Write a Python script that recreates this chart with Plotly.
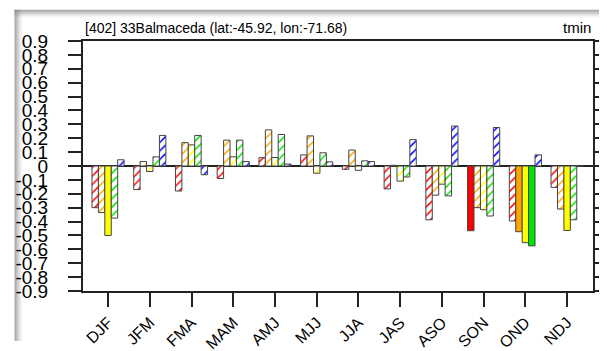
import plotly.graph_objects as go

seasons = ["DJF", "JFM", "FMA", "MAM", "AMJ", "MJJ", "JJA", "JAS", "ASO", "SON", "OND", "NDJ"]

red_vals    = [-0.30, -0.17, -0.18, -0.09, 0.06, 0.08, -0.024, -0.165, -0.387, -0.466, -0.396, -0.154]
orange_vals = [-0.335, 0.032, 0.168, 0.186, 0.26, 0.217, 0.115, 0.005, -0.21, -0.30, -0.473, -0.31]
yellow_vals = [-0.50, -0.04, 0.152, 0.066, 0.061, -0.052, -0.031, -0.109, -0.131, -0.315, -0.552, -0.464]
green_vals  = [-0.375, 0.066, 0.22, 0.186, 0.227, 0.095, 0.037, -0.079, -0.215, -0.36, -0.575, -0.387]
blue_vals   = [0.045, 0.22, -0.063, 0.032, 0.014, 0.03, 0.032, 0.19, 0.288, 0.277, 0.08, 0.004]

# significance flags (solid fill) per series
red_sig    = [0, 0, 0, 0, 0, 0, 0, 0, 0, 1, 0, 0]
orange_sig = [0, 0, 0, 0, 0, 0, 0, 0, 0, 0, 1, 0]
yellow_sig = [1, 0, 0, 0, 0, 0, 0, 0, 0, 0, 1, 1]
green_sig  = [0, 0, 0, 0, 0, 0, 0, 0, 0, 0, 1, 0]
blue_sig   = [0, 0, 0, 0, 0, 0, 0, 0, 0, 0, 0, 0]

series = [
    ("red", red_vals, red_sig, "#FF0000"),
    ("orange", orange_vals, orange_sig, "#FFA500"),
    ("yellow", yellow_vals, yellow_sig, "#FFFF00"),
    ("green", green_vals, green_sig, "#00E600"),
    ("blue", blue_vals, blue_sig, "#0000FF"),
]

ytick_vals = [round(-0.9 + 0.1 * i, 1) for i in range(19)]
ytick_text = ["0" if v == 0 else f"{v:.1f}" for v in ytick_vals]

title_text = "[402] 33Balmaceda (lat:-45.92, lon:-71.68)"
var_text = "tmin"

W, H = 607, 351
ML, MR, MT, MB = 71, 7, 33, 53
PW, PH = W - ML - MR, H - MT - MB

fig = go.Figure()
for name, vals, sig, col in series:
    fig.add_trace(go.Bar(
        x=seasons, y=vals, name=name,
        marker=dict(
            color=col,
            line=dict(color="#444444", width=1),
            pattern=dict(shape=["" if s else "/" for s in sig],
                         fillmode="replace", bgcolor="white",
                         size=6, solidity=0.25),
        ),
        showlegend=False,
    ))

font = "Liberation Sans, Arial, Helvetica, sans-serif"

# grey shadow at the top/left edges of the reference image
shapes = []
def px2paper_x(px):
    return (px - ML) / PW
def px2paper_y(py):
    return 1 - (py - MT) / PH
for i, op in enumerate([0.35, 0.25, 0.16, 0.09]):
    shapes.append(dict(type="rect", xref="paper", yref="paper",
                       x0=px2paper_x(0), x1=px2paper_x(2 * (i + 1)),
                       y0=px2paper_y(H), y1=px2paper_y(0),
                       fillcolor="#808080", opacity=op, line=dict(width=0), layer="below"))
    shapes.append(dict(type="rect", xref="paper", yref="paper",
                       x0=px2paper_x(0), x1=px2paper_x(W),
                       y0=px2paper_y(2 * (i + 1)), y1=px2paper_y(0),
                       fillcolor="#808080", opacity=op, line=dict(width=0), layer="below"))

fig.update_layout(
    width=W, height=H,
    margin=dict(l=ML, r=MR, t=MT, b=MB, pad=0),
    paper_bgcolor="white", plot_bgcolor="white",
    barmode="group", bargap=0.23, bargroupgap=0,
    font=dict(family=font, color="black"),
    shapes=shapes,
    annotations=[
        dict(text=title_text, xref="paper", yref="paper", x=0, y=1,
             xanchor="left", yanchor="bottom", yshift=3, showarrow=False,
             font=dict(size=14, family=font, color="black")),
        dict(text=var_text, xref="paper", yref="paper", x=1, y=1,
             xanchor="right", yanchor="bottom", yshift=3, showarrow=False,
             font=dict(size=15, family=font, color="black")),
    ],
    xaxis=dict(
        range=[-0.6, 11.62], showgrid=False, zeroline=False,
        showline=True, linecolor="#222222", linewidth=2, mirror=True,
        ticks="outside", ticklen=14, tickwidth=1.5, tickcolor="#222222",
        tickangle=-45, tickfont=dict(size=16, family=font, color="black"),
    ),
    yaxis=dict(
        range=[-0.9, 0.9], showgrid=False,
        zeroline=True, zerolinecolor="#222222", zerolinewidth=1.5,
        showline=True, linecolor="#222222", linewidth=2, mirror="ticks",
        ticks="outside", ticklen=13, tickwidth=1.5, tickcolor="#222222",
        tickvals=ytick_vals, ticktext=ytick_text, ticklabelstandoff=16,
        tickfont=dict(size=19, family=font, color="black"),
    ),
)

fig.write_html("out.html")
